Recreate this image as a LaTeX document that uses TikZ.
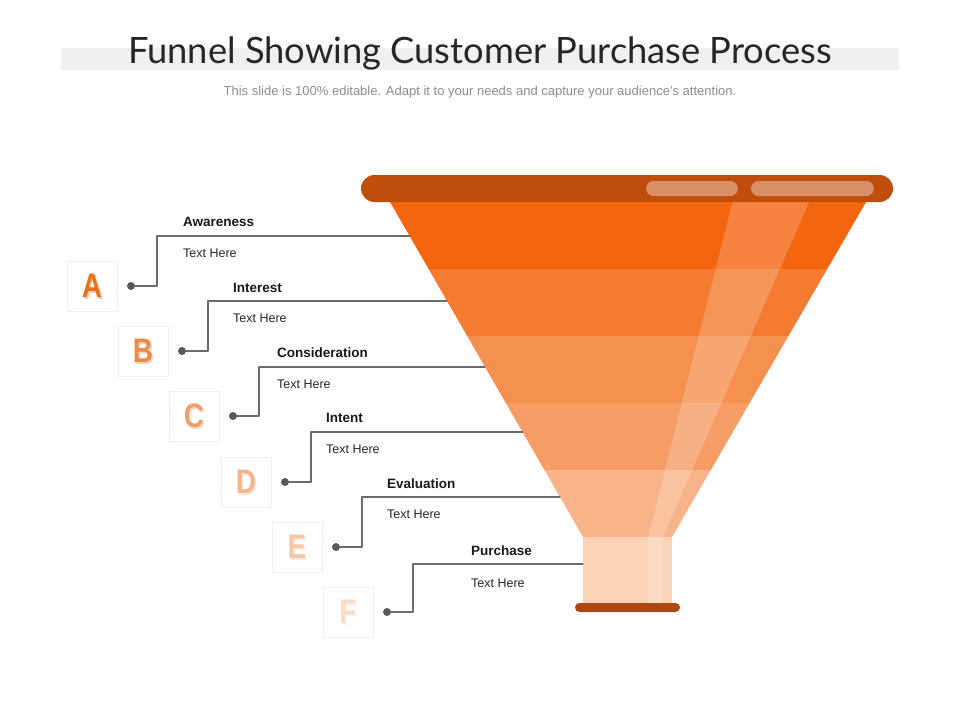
\documentclass[tikz,border=0pt]{standalone}
\usepackage{fontspec}
\setmainfont{Liberation Sans}
\newfontfamily\titlefont{Lato}
\usetikzlibrary{positioning}
\definecolor{titleband}{HTML}{F0F0F0}
\definecolor{subgray}{HTML}{8C8C8C}
\definecolor{rimbrown}{HTML}{BF4E0C}
\definecolor{rimshine}{HTML}{D98E66}
\definecolor{footbrown}{HTML}{AE4812}
\definecolor{bandA}{HTML}{F46510}
\definecolor{bandB}{HTML}{F47B2F}
\definecolor{bandC}{HTML}{F5904F}
\definecolor{bandD}{HTML}{F59D64}
\definecolor{bandE}{HTML}{F8B488}
\definecolor{bandF}{HTML}{FCD2B6}
\definecolor{leadgray}{HTML}{6B6B6B}
\definecolor{dotgray}{HTML}{595959}
\definecolor{letA}{HTML}{E8711C}
\definecolor{letB}{HTML}{EC8A47}
\definecolor{letC}{HTML}{EF9F6E}
\definecolor{letD}{HTML}{F3B48E}
\definecolor{letE}{HTML}{F6C6A7}
\definecolor{letF}{HTML}{FADAC6}
\tikzset{
  stagelabel/.style={anchor=base west, inner sep=0, text=black!90,
    font=\bfseries\fontsize{13.5}{16}\selectfont},
  stagetext/.style={anchor=base west, inner sep=0, text=black!85,
    font=\fontsize{12.5}{15}\selectfont},
  leader/.style={draw=leadgray, line width=1.2pt},
  leaddot/.style={circle, fill=dotgray, inner sep=0, minimum size=8pt},
  letterbox/.style={draw=black!6, fill=white, line width=1pt,
    minimum size=50pt, inner sep=0},
  letter/.style={inner sep=0, font=\bfseries\fontsize{34}{34}\selectfont},
}
\newcommand{\narrowletter}[1]{\scalebox{0.82}[1]{#1}}

\begin{document}
\begin{tikzpicture}[line cap=round,line join=round,x=1pt,y=-1pt]
\useasboundingbox (0,0) rectangle (960,720);
% title
\fill[titleband] (61,48) rectangle (899,70);
\node[anchor=base, inner sep=0, text=black!85, font=\titlefont\fontsize{36.3}{40}\selectfont] (title) at (480,63) {Funnel Showing Customer Purchase Process};
\node[anchor=base, inner sep=0, text=subgray, font=\fontsize{13}{15}\selectfont] (subtitle) at (480,95) {This slide is 100\% editable. Adapt it to your needs and capture your audience's attention.};
% funnel bands
\fill[bandA] (388.8,200) -- (867.2,200) -- (827.2,269) -- (428.6,269) -- cycle;
\fill[bandB] (428.6,269) -- (827.2,269) -- (788.4,336) -- (467.2,336) -- cycle;
\fill[bandC] (467.2,336) -- (788.4,336) -- (749.6,403) -- (505.8,403) -- cycle;
\fill[bandD] (505.8,403) -- (749.6,403) -- (710.8,470) -- (544.4,470) -- cycle;
\fill[bandE] (544.4,470) -- (710.8,470) -- (672,537) -- (583,537) -- cycle;
\fill[bandF] (583,537) rectangle (672,604);
% shine
\fill[white, opacity=0.2] (733,200) -- (810,200) -- (663,537) -- (663,604) -- (648,604) -- (648,537) -- cycle;
% rim and foot
\fill[rimbrown, rounded corners=13.5pt] (361,175) rectangle (893,202);
\fill[rimshine, rounded corners=7.5pt] (646,181) rectangle (738,196);
\fill[rimshine, rounded corners=7.5pt] (751,181) rectangle (874,196);
\fill[footbrown, rounded corners=4.5pt] (575,603) rectangle (680,612);

% stage A
\node[letterbox] (boxA) at (92,286) {};
\node[letter, text=letA!35] at ([shift={(1.4,1.4)}]boxA.center) {\narrowletter{A}};
\node[letter, text=letA] (ltrA) at (boxA) {\narrowletter{A}};
\node[leaddot] (dotA) at (131,286) {};
\coordinate (kneeA) at (157,236);
\coordinate (endA) at (409.6,236);
\draw[leader] (dotA) -| (kneeA) -- (endA);
\node[stagelabel] (lblA) at (183,226) {Awareness};
\node[stagetext] (txtA) at (183,257) {Text Here};

% stage B
\node[letterbox] (boxB) at (143,351) {};
\node[letter, text=letB!35] at ([shift={(1.4,1.4)}]boxB.center) {\narrowletter{B}};
\node[letter, text=letB] (ltrB) at (boxB) {\narrowletter{B}};
\node[leaddot] (dotB) at (182,351) {};
\coordinate (kneeB) at (208,301);
\coordinate (endB) at (447,301);
\draw[leader] (dotB) -| (kneeB) -- (endB);
\node[stagelabel] (lblB) at (233,292) {Interest};
\node[stagetext] (txtB) at (233,322) {Text Here};

% stage C
\node[letterbox] (boxC) at (194,416) {};
\node[letter, text=letC!35] at ([shift={(1.4,1.4)}]boxC.center) {\narrowletter{C}};
\node[letter, text=letC] (ltrC) at (boxC) {\narrowletter{C}};
\node[leaddot] (dotC) at (233,416) {};
\coordinate (kneeC) at (259,367);
\coordinate (endC) at (485,367);
\draw[leader] (dotC) -| (kneeC) -- (endC);
\node[stagelabel] (lblC) at (277,357) {Consideration};
\node[stagetext] (txtC) at (277,388) {Text Here};

% stage D
\node[letterbox] (boxD) at (246,482) {};
\node[letter, text=letD!35] at ([shift={(1.4,1.4)}]boxD.center) {\narrowletter{D}};
\node[letter, text=letD] (ltrD) at (boxD) {\narrowletter{D}};
\node[leaddot] (dotD) at (285,482) {};
\coordinate (kneeD) at (311,432);
\coordinate (endD) at (522.5,432);
\draw[leader] (dotD) -| (kneeD) -- (endD);
\node[stagelabel] (lblD) at (326,422) {Intent};
\node[stagetext] (txtD) at (326,453) {Text Here};

% stage E
\node[letterbox] (boxE) at (297,547) {};
\node[letter, text=letE!35] at ([shift={(1.4,1.4)}]boxE.center) {\narrowletter{E}};
\node[letter, text=letE] (ltrE) at (boxE) {\narrowletter{E}};
\node[leaddot] (dotE) at (336,547) {};
\coordinate (kneeE) at (362,497);
\coordinate (endE) at (560,497);
\draw[leader] (dotE) -| (kneeE) -- (endE);
\node[stagelabel] (lblE) at (387,488) {Evaluation};
\node[stagetext] (txtE) at (387,518) {Text Here};

% stage F
\node[letterbox] (boxF) at (348,612) {};
\node[letter, text=letF!35] at ([shift={(1.4,1.4)}]boxF.center) {\narrowletter{F}};
\node[letter, text=letF] (ltrF) at (boxF) {\narrowletter{F}};
\node[leaddot] (dotF) at (387,612) {};
\coordinate (kneeF) at (413,564);
\coordinate (endF) at (583,564);
\draw[leader] (dotF) -| (kneeF) -- (endF);
\node[stagelabel] (lblF) at (471,555) {Purchase};
\node[stagetext] (txtF) at (471,587) {Text Here};
\end{tikzpicture}
\end{document}
